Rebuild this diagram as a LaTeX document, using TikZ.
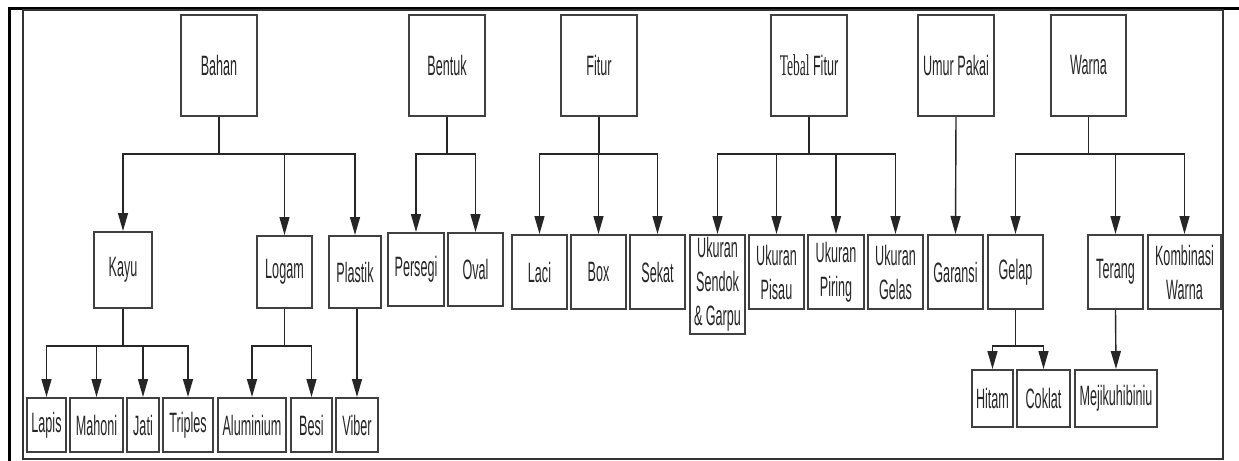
\documentclass[tikz,border=0pt]{standalone}
\usepackage{fontspec}
\setmainfont[FakeStretch=0.45]{Liberation Sans}
\newfontfamily\seriftipis[FakeStretch=0.45]{Liberation Serif}
\usetikzlibrary{arrows.meta}

\begin{document}
\begin{tikzpicture}[x=0.5pt,y=-0.5pt,
  kotak/.style={draw=black!75, line width=1pt, inner sep=0pt, align=center,
    text=black!85, font=\fontsize{14}{17}\selectfont},
  ukuran/.style 2 args={minimum width=#1*0.5pt, minimum height=#2*0.5pt},
  panah/.style={draw=black!85, line width=0.7pt,
    -{Triangle[length=9pt,width=5pt]}}]
  \useasboundingbox (0,0) rectangle (1239,461);

  % bingkai
  \draw [line width=1.5pt] (1239,8) -- (9,8) -- (9,461);
  \draw [line width=0.8pt, black!80] (23,10) rectangle (1223,459);

  % tingkat atas
  \node [kotak, ukuran={76}{101}] (bahan)  at (219,65.5)    {Bahan};
  \node [kotak, ukuran={76}{101}] (bentuk) at (447,65.5)    {Bentuk};
  \node [kotak, ukuran={76}{101}] (fitur)  at (599,65.5)    {Fitur};
  \node [kotak, ukuran={76}{101}] (tebal)  at (809,65.5)
    {{\seriftipis\fontsize{15}{17}\selectfont Tebal} Fitur};
  \node [kotak, ukuran={76}{101}] (umur)   at (956,65.5)    {Umur Pakai};
  \node [kotak, ukuran={75}{101}] (warna)  at (1088.5,65.5) {Warna};

  % tingkat kedua
  \node [kotak, ukuran={58}{76}] (kayu)      at (123,270)    {Kayu};
  \node [kotak, ukuran={55}{72}] (logam)     at (284.5,272)  {Logam};
  \node [kotak, ukuran={52}{72}] (plastik)   at (355,272)    {Plastik};
  \node [kotak, ukuran={56}{73}] (persegi)   at (416,269.5)  {Persegi};
  \node [kotak, ukuran={55}{73}] (oval)      at (475.5,269.5) {Oval};
  \node [kotak, ukuran={55}{74}] (laci)      at (539.5,272)  {Laci};
  \node [kotak, ukuran={55}{74}] (box)       at (598.5,272)  {Box};
  \node [kotak, ukuran={55}{74}] (sekat)     at (657.5,272)  {Sekat};
  \node [kotak, ukuran={55}{99}] (sendok)    at (717.5,284.5) {Ukuran\\Sendok\\\& Garpu};
  \node [kotak, ukuran={55}{74}] (pisau)     at (776.5,272)  {Ukuran\\Pisau};
  \node [kotak, ukuran={56}{74}] (piring)    at (836,272)    {Ukuran\\Piring};
  \node [kotak, ukuran={55}{74}] (gelas)     at (895.5,272)  {Ukuran\\Gelas};
  \node [kotak, ukuran={55}{74}] (garansi)   at (955.5,272)  {Garansi};
  \node [kotak, ukuran={55}{74}] (gelap)     at (1015.5,272) {Gelap};
  \node [kotak, ukuran={55}{74}] (terang)    at (1115.5,272) {Terang};
  \node [kotak, ukuran={73}{74}] (kombinasi) at (1184.5,272) {Kombinasi\\Warna};

  % tingkat ketiga
  \node [kotak, ukuran={39}{54}] (lapis)     at (46.5,425)   {Lapis};
  \node [kotak, ukuran={53}{54}] (mahoni)    at (96.5,425)   {Mahoni};
  \node [kotak, ukuran={32}{54}] (jati)      at (143,425)    {Jati};
  \node [kotak, ukuran={50}{54}] (triples)   at (188,425)    {Triples};
  \node [kotak, ukuran={68}{54}] (aluminium) at (252,425)    {Aluminium};
  \node [kotak, ukuran={41}{54}] (besi)      at (311.5,425)  {Besi};
  \node [kotak, ukuran={42}{54}] (viber)     at (357,425)    {Viber};
  \node [kotak, ukuran={41}{57}] (hitam)     at (992.5,398.5) {Hitam};
  \node [kotak, ukuran={53}{57}] (coklat)    at (1043.5,398.5) {Coklat};
  \node [kotak, ukuran={82}{57}] (mejikuhibiniu) at (1116,398.5) {Mejikuhibiniu};

  % panah
  \foreach \anak in {kayu,logam,plastik}
    \draw [panah] (bahan.south) -- ++(0,37) -| (\anak.north);
  \foreach \anak in {persegi,oval}
    \draw [panah] (bentuk.south) -- ++(0,37) -| (\anak.north);
  \foreach \anak in {laci,box,sekat}
    \draw [panah] (fitur.south) -- ++(0,37) -| (\anak.north);
  \foreach \anak in {sendok,pisau,piring,gelas}
    \draw [panah] (tebal.south) -- ++(0,37) -| (\anak.north);
  \draw [panah] (umur.south) -- (garansi.north);
  \foreach \anak in {gelap,terang,kombinasi}
    \draw [panah] (warna.south) -- ++(0,37) -| (\anak.north);

  \foreach \anak in {lapis,mahoni,jati,triples}
    \draw [panah] (kayu.south) -- ++(0,37) -| (\anak.north);
  \foreach \anak in {aluminium,besi}
    \draw [panah] (logam.south) -- ++(0,37) -| (\anak.north);
  \draw [panah] (viber.north |- plastik.south) -- (viber.north);
  \foreach \anak in {hitam,coklat}
    \draw [panah] (gelap.south) -- ++(0,36) -| (\anak.north);
  \draw [panah] (terang.south) -- (mejikuhibiniu.north);
\end{tikzpicture}
\end{document}
